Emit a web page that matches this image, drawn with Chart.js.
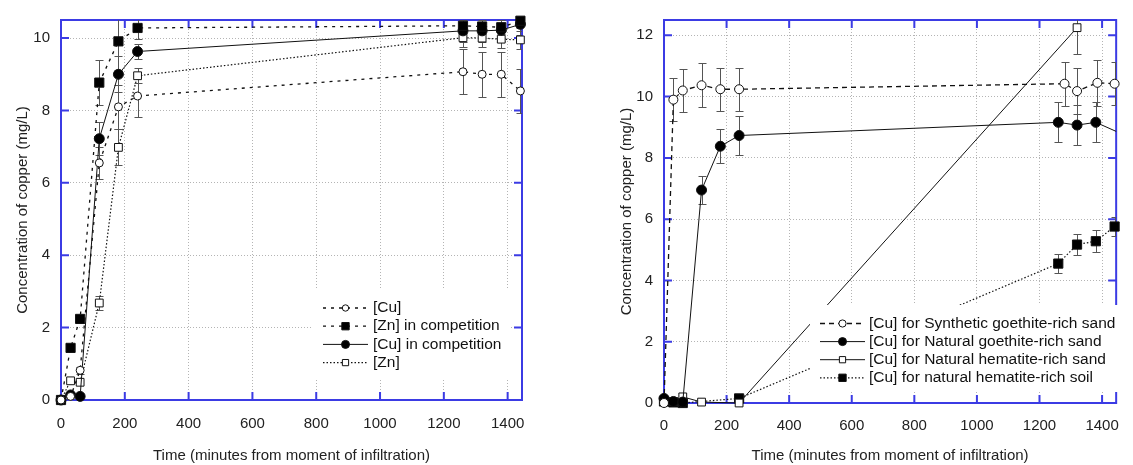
<!DOCTYPE html>
<html>
<head>
<meta charset="utf-8">
<script src="https://cdn.jsdelivr.net/npm/chart.js@4.4.1/dist/chart.umd.min.js"></script>
<style>
  body { margin: 0; background: #fff; width: 1133px; height: 465px; overflow: hidden; position: relative; }
  .box { position: absolute; top: 0; height: 465px; }
  #leftBox { left: 0; width: 540px; }
  #rightBox { left: 600px; width: 533px; }
</style>
</head>
<body>
<div class="box" id="leftBox"><canvas id="leftChart"></canvas></div>
<div class="box" id="rightBox"><canvas id="rightChart"></canvas></div>
<script>
// ---- left panel: copper / zinc, alone and in competition ----
var leftTimes = [0, 30, 60, 120, 180, 240, 1260, 1320, 1380, 1440];
var cuAlone      = [0, 0.1, 0.82, 6.55, 8.1, 8.4, 9.07, 9.0, 9.0, 8.54];
var cuAloneErr   = [0, 0, 0.1, 0.45, 0.6, 0.58, 0.62, 0.62, 0.62, 0.6];
var znComp       = [0, 1.44, 2.24, 8.77, 9.91, 10.28, 10.34, 10.32, 10.3, 10.48];
var znCompErr    = [0, 0, 0.1, 0.62, 0.8, 0.3, 0.2, 0.2, 0.2, 0.2];
var cuComp       = [0, 0.14, 0.1, 7.22, 9.0, 9.63, 10.2, 10.2, 10.22, 10.38];
var cuCompErr    = [0, 0, 0, 0.45, 0.5, 0.2, 0.3, 0.3, 0.3, 0.3];
var znAlone      = [0, 0.53, 0.49, 2.68, 6.98, 8.96, 10.01, 10.0, 9.97, 9.95];
var znAloneErr   = [0, 0, 0, 0.2, 0.5, 0.2, 0.25, 0.25, 0.25, 0.25];

// ---- right panel: copper in four media ----
var synthTimes   = [0, 30, 60, 120, 180, 240, 1280, 1320, 1385, 1440];
var synthGoe     = [0, 9.9, 10.2, 10.37, 10.24, 10.24, 10.42, 10.18, 10.45, 10.42];
var synthGoeErr  = [0, 0.7, 0.7, 0.72, 0.7, 0.7, 0.72, 0.75, 0.75, 0.7];
var natGoeTimes  = [0, 30, 60, 120, 180, 240, 1260, 1320, 1380, 1470];
var natGoe       = [0.15, 0.05, 0.03, 6.95, 8.38, 8.73, 9.16, 9.07, 9.16, 8.75];
var natGoeErr    = [0, 0, 0, 0.47, 0.55, 0.63, 0.65, 0.65, 0.65, 0];
var hemSandTimes = [0, 30, 60, 120, 240, 1320];
var hemSand      = [0.1, 0.05, 0.2, 0.03, 0, 12.25];
var hemSandErr   = [0, 0, 0, 0, 0, 0.85];
var hemSoilTimes = [0, 30, 60, 240, 1260, 1320, 1380, 1440];
var hemSoil      = [0.05, 0.02, 0, 0.15, 4.55, 5.17, 5.28, 5.76];
var hemSoilErr   = [0, 0, 0, 0, 0.3, 0.35, 0.35, 0.3];

var xTitle = 'Time (minutes from moment of infiltration)';
var yTitle = 'Concentration of copper (mg/L)';

Chart.defaults.font.family = '"Liberation Sans", Arial, sans-serif';
Chart.defaults.font.size = 15;
Chart.defaults.color = '#222';

function pts(xs, ys) {
    return xs.map(function (t, i) { return { x: t, y: ys[i] }; });
}

// blue frame with inward tick marks on all four sides
var frame = {
    id: 'frame',
    beforeDatasetsDraw: function (chart) {
        var ctx = chart.ctx, a = chart.chartArea, xs = chart.scales.x, ys = chart.scales.y;
        ctx.save();
        ctx.strokeStyle = '#3b3be4';
        ctx.lineWidth = 2;
        ctx.strokeRect(a.left, a.top, a.right - a.left, a.bottom - a.top);
        ctx.beginPath();
        xs.ticks.forEach(function (t) {
            var px = xs.getPixelForValue(t.value);
            ctx.moveTo(px, a.bottom); ctx.lineTo(px, a.bottom - 8);
            ctx.moveTo(px, a.top); ctx.lineTo(px, a.top + 8);
        });
        ys.ticks.forEach(function (t) {
            var py = ys.getPixelForValue(t.value);
            ctx.moveTo(a.left, py); ctx.lineTo(a.left + 8, py);
            ctx.moveTo(a.right, py); ctx.lineTo(a.right - 8, py);
        });
        ctx.stroke();
        ctx.restore();
    }
};

// vertical error bars with caps, read from each dataset's "errors" list
var errorBars = {
    id: 'errorBars',
    beforeDatasetsDraw: function (chart) {
        var ctx = chart.ctx, xs = chart.scales.x, ys = chart.scales.y, a = chart.chartArea;
        ctx.save();
        ctx.beginPath();
        ctx.rect(a.left, a.top, a.right - a.left, a.bottom - a.top);
        ctx.clip();
        ctx.strokeStyle = '#555';
        ctx.lineWidth = 1;
        chart.data.datasets.forEach(function (ds) {
            if (!ds.errors) return;
            ds.data.forEach(function (p, i) {
                var e = ds.errors[i];
                if (!e) return;
                var px = Math.round(xs.getPixelForValue(p.x)) + 0.5;
                var top = Math.round(ys.getPixelForValue(p.y + e)) + 0.5;
                var bot = Math.round(ys.getPixelForValue(p.y - e)) + 0.5;
                ctx.beginPath();
                ctx.moveTo(px, top); ctx.lineTo(px, bot);
                ctx.moveTo(px - 4, top); ctx.lineTo(px + 4, top);
                ctx.moveTo(px - 4, bot); ctx.lineTo(px + 4, bot);
                ctx.stroke();
            });
        });
        ctx.restore();
    }
};

// boxed legend drawn inside the plot, like the original
function boxLegend(box) {
    return {
        id: 'boxLegend',
        afterDatasetsDraw: function (chart) {
            var ctx = chart.ctx;
            ctx.save();
            ctx.fillStyle = '#fff';
            ctx.fillRect(box.x, box.y, box.w, box.h);
            ctx.font = '15.5px "Liberation Sans", Arial, sans-serif';
            ctx.textBaseline = 'middle';
            chart.data.datasets.forEach(function (ds, i) {
                var y = box.firstY + i * box.step;
                ctx.strokeStyle = ds.borderColor;
                ctx.lineWidth = ds.borderWidth;
                ctx.setLineDash(ds.borderDash || []);
                ctx.beginPath();
                ctx.moveTo(box.lineX, y);
                ctx.lineTo(box.lineX + box.lineW, y);
                ctx.stroke();
                ctx.setLineDash([]);
                ctx.fillStyle = ds.pointBackgroundColor;
                ctx.strokeStyle = ds.pointBorderColor;
                ctx.lineWidth = 1;
                Chart.helpers.drawPoint(ctx, {
                    pointStyle: ds.pointStyle, radius: ds.pointRadius * 0.8,
                    borderWidth: 1, rotation: 0
                }, box.lineX + box.lineW / 2, y);
                ctx.fillStyle = '#111';
                ctx.fillText(ds.label, box.textX, y);
            });
            ctx.restore();
        }
    };
}

function series(label, data, errors, style) {
    return Object.assign({
        label: label,
        data: data,
        errors: errors,
        showLine: true,
        borderColor: '#111',
        borderWidth: 1,
        pointBorderColor: '#111',
        pointBorderWidth: 1,
        pointHoverRadius: 0,
        tension: 0,
        clip: false
    }, style);
}

function scales(yMax, xPad, yWidth, xHeight, yTitlePad) {
    var grid = { color: '#b4b4b4', drawTicks: false, lineWidth: 1 };
    var border = { display: false, dash: [1, 2] };
    var plain = function (v) { return String(v); };
    return {
        x: {
            type: 'linear', min: 0, max: 1445,
            ticks: { stepSize: 200, includeBounds: false, padding: xPad, maxRotation: 0, callback: plain },
            grid: grid, border: border,
            title: { display: true, text: xTitle, padding: { top: 0, bottom: 0 } },
            afterFit: function (s) { s.height = xHeight; }
        },
        y: {
            min: 0, max: yMax,
            ticks: { stepSize: 2, includeBounds: false, padding: 11, callback: plain },
            grid: grid, border: border,
            title: { display: true, text: yTitle, padding: { top: yTitlePad, bottom: 0 } },
            afterFit: function (s) { s.width = yWidth; }
        }
    };
}

var baseOptions = {
    responsive: true,
    maintainAspectRatio: false,
    animation: false,
    plugins: { legend: { display: false }, tooltip: { enabled: false } }
};

// Left chart
new Chart(document.getElementById('leftChart').getContext('2d'), {
    type: 'scatter',
    data: {
        datasets: [
            series('[Cu]', pts(leftTimes, cuAlone), cuAloneErr, {
                pointStyle: 'circle', pointRadius: 4, pointBackgroundColor: '#fff',
                borderDash: [3, 5], borderWidth: 1.3
            }),
            series('[Zn] in competition', pts(leftTimes, znComp), znCompErr, {
                pointStyle: 'rect', pointRadius: 6.5, pointBackgroundColor: '#000',
                borderDash: [3, 5], borderWidth: 1.3
            }),
            series('[Cu] in competition', pts(leftTimes, cuComp), cuCompErr, {
                pointStyle: 'circle', pointRadius: 5, pointBackgroundColor: '#000'
            }),
            series('[Zn]', pts(leftTimes, znAlone), znAloneErr, {
                pointStyle: 'rect', pointRadius: 5.5, pointBackgroundColor: '#fff',
                borderDash: [1.5, 2], borderWidth: 1.2
            })
        ]
    },
    options: Object.assign({}, baseOptions, {
        layout: { padding: { top: 14, right: 18, left: 0, bottom: 0 } },
        scales: scales(10.5, 15, 61, 65, 14)
    }),
    plugins: [frame, errorBars, boxLegend({
        x: 312, y: 290, w: 198, h: 88,
        firstY: 308, step: 18.2, lineX: 323, lineW: 45, textX: 373
    })]
});

// Right chart
new Chart(document.getElementById('rightChart').getContext('2d'), {
    type: 'scatter',
    data: {
        datasets: [
            series('[Cu] for Synthetic goethite-rich sand', pts(synthTimes, synthGoe), synthGoeErr, {
                pointStyle: 'circle', pointRadius: 4.5, pointBackgroundColor: '#fff',
                borderDash: [5, 4], borderWidth: 1.3
            }),
            series('[Cu] for Natural goethite-rich sand', pts(natGoeTimes, natGoe), natGoeErr, {
                pointStyle: 'circle', pointRadius: 5, pointBackgroundColor: '#000',
                clip: { left: false, top: false, right: 0, bottom: false }
            }),
            series('[Cu] for Natural hematite-rich sand', pts(hemSandTimes, hemSand), hemSandErr, {
                pointStyle: 'rect', pointRadius: 5.5, pointBackgroundColor: '#fff'
            }),
            series('[Cu] for natural hematite-rich soil', pts(hemSoilTimes, hemSoil), hemSoilErr, {
                pointStyle: 'rect', pointRadius: 6.5, pointBackgroundColor: '#000',
                borderDash: [1.5, 2], borderWidth: 1.2
            })
        ]
    },
    options: Object.assign({}, baseOptions, {
        layout: { padding: { top: 14, right: 5, left: 0, bottom: 0 } },
        scales: scales(12.5, 14, 64, 62, 18)
    }),
    plugins: [frame, errorBars, boxLegend({
        x: 210, y: 305, w: 318, h: 87,
        firstY: 323.5, step: 18.1, lineX: 220, lineW: 45, textX: 269
    })]
});
</script>
</body>
</html>
